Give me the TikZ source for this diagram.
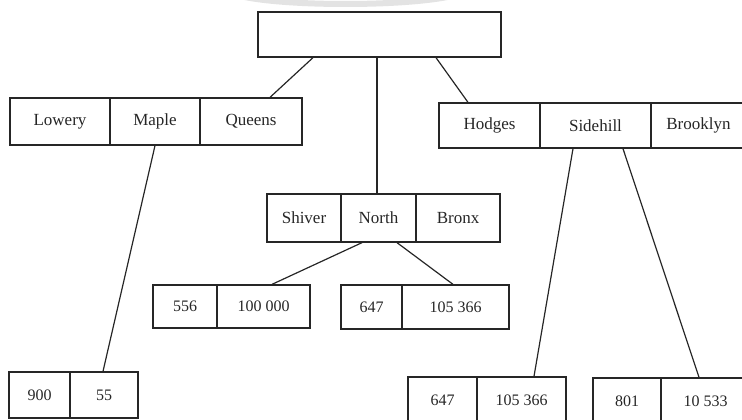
\documentclass[tikz,border=0pt]{standalone}
\usepackage{fontspec}
\setmainfont{Liberation Serif}
\begin{document}
\begin{tikzpicture}[x=1pt,y=-1pt,
  cell/.style={draw=black!85, line width=1.3pt, inner sep=0pt, text=black!85, font=\fontsize{17}{20}\selectfont},
  num/.style={font=\fontsize{16}{19}\selectfont},
  link/.style={draw=black!85, line width=1.2pt}]
\useasboundingbox (0,0) rectangle (742,420);
\clip (0,0) rectangle (742,420);
% faint scan watermark arc
\draw[gray!22, line width=6pt] (228,-8) .. controls (260,8) and (430,8) .. (465,-8);
% root
\node[cell, minimum width=243pt, minimum height=45pt] (root) at (379.5,34.5) {};
% left index node
\node[cell, minimum width=100pt, minimum height=47pt] (lowery) at (60,121.5) {Lowery};
\node[cell, minimum width=90pt, minimum height=47pt] (maple) at (155,121.5) {Maple};
\node[cell, minimum width=102pt, minimum height=47pt] (queens) at (251,121.5) {Queens};
% middle index node
\node[cell, minimum width=74pt, minimum height=48pt] (shiver) at (304,218) {Shiver};
\node[cell, minimum width=75pt, minimum height=48pt] (north) at (378.5,218) {North};
\node[cell, minimum width=84pt, minimum height=48pt] (bronx) at (458,218) {Bronx};
% right index node
\node[cell, minimum width=101pt, minimum height=45pt] (hodges) at (489.5,125.5) {Hodges};
\node[cell, minimum width=111pt, minimum height=45pt] (sidehill) at (595.5,125.5) {Sidehill};
\node[cell, minimum width=99pt, minimum height=45pt] (brooklyn) at (700.5,125.5) {\hspace*{-4pt}Brooklyn};
% leaves
\node[cell, num, minimum width=64pt, minimum height=43pt] (a556) at (185,306.5) {556};
\node[cell, num, minimum width=93pt, minimum height=43pt] (a100) at (263.5,306.5) {100 000};
\node[cell, num, minimum width=61pt, minimum height=44pt] (a647) at (371.5,307) {647};
\node[cell, num, minimum width=107pt, minimum height=44pt] (a105) at (455.5,307) {105 366};
\node[cell, num, minimum width=61pt, minimum height=46pt] (a900) at (39.5,395) {900};
\node[cell, num, minimum width=68pt, minimum height=46pt] (a55) at (104,395) {55};
\node[cell, num, minimum width=69pt, minimum height=46pt] (b647) at (442.5,400) {647};
\node[cell, num, minimum width=89pt, minimum height=46pt] (b105) at (521.5,400) {105 366};
\node[cell, num, minimum width=68pt, minimum height=46pt] (b801) at (627,401) {801};
\node[cell, num, minimum width=89pt, minimum height=46pt] (b533) at (705.5,401) {10 533};
% connectors
\draw[link] ([xshift=-66.5pt]root.south) -- ([xshift=19pt]queens.north);
\draw[link] ([xshift=-2.5pt]root.south) -- ([xshift=-1.5pt]north.north);
\draw[link] ([xshift=56.5pt]root.south) -- ([xshift=-21.5pt]hodges.north);
\draw[link] (maple.south) -- ([xshift=-1pt]a55.north);
\draw[link] ([xshift=-16.5pt]north.south) -- ([xshift=8.5pt]a100.north);
\draw[link] ([xshift=18.5pt]north.south) -- ([xshift=-2.5pt]a105.north);
\draw[link] ([xshift=-22.5pt]sidehill.south) -- ([xshift=12.5pt]b105.north);
\draw[link] ([xshift=27.5pt]sidehill.south) -- ([xshift=-6.5pt]b533.north);
\end{tikzpicture}
\end{document}
